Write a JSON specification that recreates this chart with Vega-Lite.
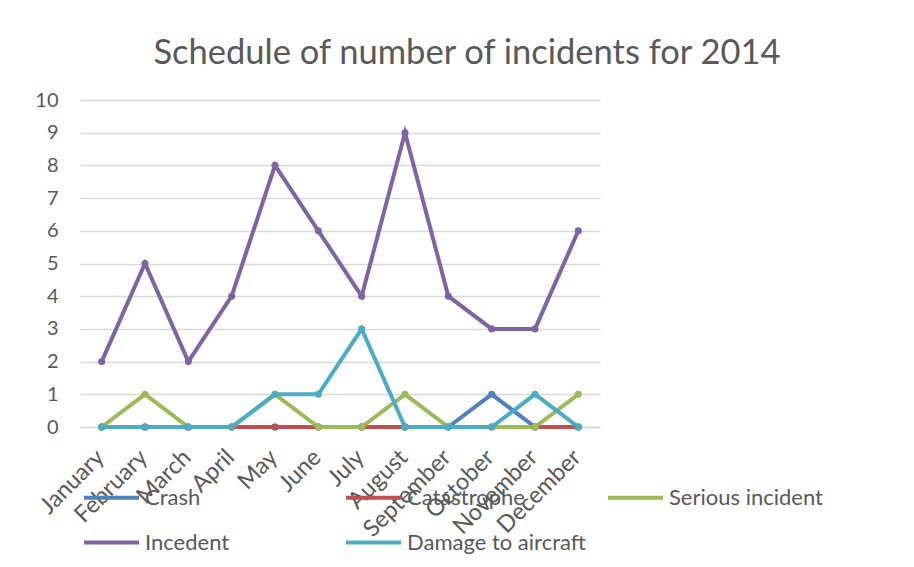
{
  "$schema": "https://vega.github.io/schema/vega-lite/v6.json",
  "width": 520,
  "height": 327,
  "autosize": "none",
  "padding": {"left": 80, "top": 100, "right": 314, "bottom": 140},
  "background": "white",
  "title": {
    "text": "Schedule of number of incidents for 2014",
    "fontSize": 34.5,
    "font": "Lato",
    "fontWeight": "normal",
    "color": "#595959",
    "anchor": "middle",
    "dx": 127,
    "offset": 19
  },
  "config": {
    "font": "Lato",
    "view": {"stroke": null}
  },
  "data": {
    "values": [
      {"month": "January", "series": "Crash", "value": 0},
      {"month": "February", "series": "Crash", "value": 0},
      {"month": "March", "series": "Crash", "value": 0},
      {"month": "April", "series": "Crash", "value": 0},
      {"month": "May", "series": "Crash", "value": 0},
      {"month": "June", "series": "Crash", "value": 0},
      {"month": "July", "series": "Crash", "value": 0},
      {"month": "August", "series": "Crash", "value": 0},
      {"month": "September", "series": "Crash", "value": 0},
      {"month": "October", "series": "Crash", "value": 1},
      {"month": "November", "series": "Crash", "value": 0},
      {"month": "December", "series": "Crash", "value": 0},
      {"month": "January", "series": "Catastrophe", "value": 0},
      {"month": "February", "series": "Catastrophe", "value": 0},
      {"month": "March", "series": "Catastrophe", "value": 0},
      {"month": "April", "series": "Catastrophe", "value": 0},
      {"month": "May", "series": "Catastrophe", "value": 0},
      {"month": "June", "series": "Catastrophe", "value": 0},
      {"month": "July", "series": "Catastrophe", "value": 0},
      {"month": "August", "series": "Catastrophe", "value": 0},
      {"month": "September", "series": "Catastrophe", "value": 0},
      {"month": "October", "series": "Catastrophe", "value": 0},
      {"month": "November", "series": "Catastrophe", "value": 0},
      {"month": "December", "series": "Catastrophe", "value": 0},
      {"month": "January", "series": "Serious incident", "value": 0},
      {"month": "February", "series": "Serious incident", "value": 1},
      {"month": "March", "series": "Serious incident", "value": 0},
      {"month": "April", "series": "Serious incident", "value": 0},
      {"month": "May", "series": "Serious incident", "value": 1},
      {"month": "June", "series": "Serious incident", "value": 0},
      {"month": "July", "series": "Serious incident", "value": 0},
      {"month": "August", "series": "Serious incident", "value": 1},
      {"month": "September", "series": "Serious incident", "value": 0},
      {"month": "October", "series": "Serious incident", "value": 0},
      {"month": "November", "series": "Serious incident", "value": 0},
      {"month": "December", "series": "Serious incident", "value": 1},
      {"month": "January", "series": "Incedent", "value": 2},
      {"month": "February", "series": "Incedent", "value": 5},
      {"month": "March", "series": "Incedent", "value": 2},
      {"month": "April", "series": "Incedent", "value": 4},
      {"month": "May", "series": "Incedent", "value": 8},
      {"month": "June", "series": "Incedent", "value": 6},
      {"month": "July", "series": "Incedent", "value": 4},
      {"month": "August", "series": "Incedent", "value": 9},
      {"month": "September", "series": "Incedent", "value": 4},
      {"month": "October", "series": "Incedent", "value": 3},
      {"month": "November", "series": "Incedent", "value": 3},
      {"month": "December", "series": "Incedent", "value": 6},
      {"month": "January", "series": "Damage to aircraft", "value": 0},
      {"month": "February", "series": "Damage to aircraft", "value": 0},
      {"month": "March", "series": "Damage to aircraft", "value": 0},
      {"month": "April", "series": "Damage to aircraft", "value": 0},
      {"month": "May", "series": "Damage to aircraft", "value": 1},
      {"month": "June", "series": "Damage to aircraft", "value": 1},
      {"month": "July", "series": "Damage to aircraft", "value": 3},
      {"month": "August", "series": "Damage to aircraft", "value": 0},
      {"month": "September", "series": "Damage to aircraft", "value": 0},
      {"month": "October", "series": "Damage to aircraft", "value": 0},
      {"month": "November", "series": "Damage to aircraft", "value": 1},
      {"month": "December", "series": "Damage to aircraft", "value": 0}
    ]
  },
  "mark": {
    "type": "line",
    "strokeWidth": 4,
    "point": {"filled": true, "size": 50}
  },
  "encoding": {
    "x": {
      "field": "month",
      "type": "ordinal",
      "sort": null,
      "scale": {"type": "point", "padding": 0.5},
      "axis": {
        "title": null,
        "labelAngle": -45,
        "labelFontSize": 23.5,
        "labelColor": "#595959",
        "labelPadding": 18,
        "labelOffset": -10,
        "labelOverlap": false,
        "ticks": false,
        "domainColor": "#d9d9d9",
        "domainWidth": 1.5,
        "grid": false
      }
    },
    "y": {
      "field": "value",
      "type": "quantitative",
      "scale": {"domain": [0, 10]},
      "axis": {
        "title": null,
        "values": [0, 1, 2, 3, 4, 5, 6, 7, 8, 9, 10],
        "labelOverlap": false,
        "labelFontSize": 20,
        "labelColor": "#595959",
        "labelPadding": 22,
        "ticks": false,
        "domain": false,
        "gridColor": "#d9d9d9",
        "gridWidth": 1.5
      }
    },
    "color": {
      "field": "series",
      "type": "nominal",
      "sort": null,
      "scale": {
        "domain": ["Crash", "Catastrophe", "Serious incident", "Incedent", "Damage to aircraft"],
        "range": ["#4F81BD", "#C0504D", "#9BBB59", "#8064A2", "#4BACC6"]
      },
      "legend": {
        "title": null,
        "orient": "none",
        "legendX": 2,
        "legendY": 368,
        "direction": "horizontal",
        "columns": 3,
        "gridAlign": "all",
        "symbolType": "stroke",
        "symbolSize": 3025,
        "symbolStrokeWidth": 4,
        "labelFontSize": 22,
        "labelColor": "#595959",
        "labelOffset": 4,
        "labelLimit": 300,
        "columnPadding": 14,
        "rowPadding": 4
      }
    }
  }
}
